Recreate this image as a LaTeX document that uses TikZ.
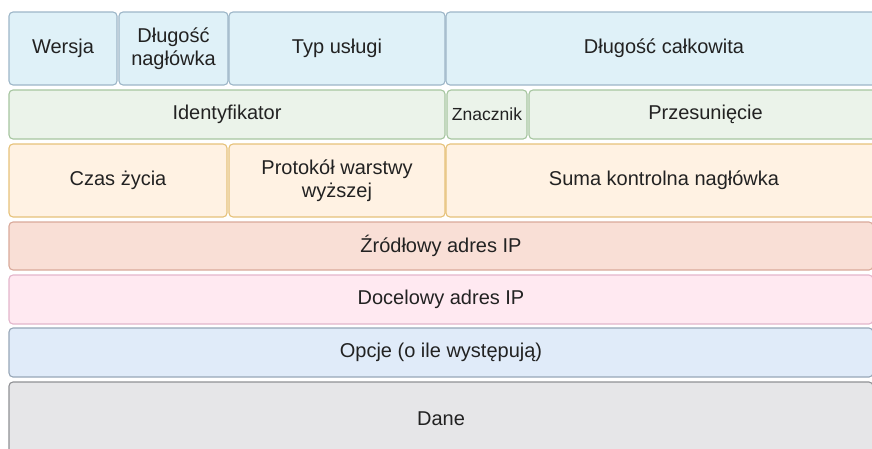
\documentclass[tikz,border=0pt]{standalone}
\usepackage{fontspec}
\setmainfont{Liberation Sans}
\usepackage{tikz}
\usetikzlibrary{positioning}
\definecolor{verfill}{HTML}{DFF1F8}
\definecolor{verline}{HTML}{9DB6C8}
\definecolor{idfill}{HTML}{EBF3EA}
\definecolor{idline}{HTML}{A6C5A0}
\definecolor{ttlfill}{HTML}{FFF2E3}
\definecolor{ttlline}{HTML}{E6C27A}
\definecolor{srcfill}{HTML}{F9DFD6}
\definecolor{srcline}{HTML}{D9A99A}
\definecolor{dstfill}{HTML}{FFE9F1}
\definecolor{dstline}{HTML}{E3B5CB}
\definecolor{optfill}{HTML}{E0EBF9}
\definecolor{optline}{HTML}{97A6B7}
\definecolor{datfill}{HTML}{E6E6E8}
\definecolor{datline}{HTML}{8F9094}
\definecolor{txt}{HTML}{222222}

\begin{document}
\begin{tikzpicture}[
  x=1pt,y=1pt,
  fld/.style={draw,rounded corners=4pt,line width=1.1pt,inner sep=0pt,
    align=center,text=txt,font=\fontsize{20}{23}\selectfont},
  r1/.style={fld,fill=verfill,draw=verline},
  r2/.style={fld,fill=idfill,draw=idline},
  r3/.style={fld,fill=ttlfill,draw=ttlline},
  r4/.style={fld,fill=srcfill,draw=srcline},
  r5/.style={fld,fill=dstfill,draw=dstline},
  r6/.style={fld,fill=optfill,draw=optline},
  r7/.style={fld,fill=datfill,draw=datline},
]
  \useasboundingbox (0,0) rectangle (872,-448);
  \clip (0,0) rectangle (872,-448);
  % wiersz 1
  \node[r1,minimum width=108,minimum height=73] (wer) at (63,-48.5)    {Wersja};
  \node[r1,minimum width=109,minimum height=73] (dlh) at (173.5,-48.5) {Długość\\nagłówka};
  \node[r1,minimum width=216,minimum height=73] (tos) at (337,-48.5)   {Typ usługi};
  \node[r1,minimum width=436,minimum height=73] (dlc) at (664,-48.5)   {Długość całkowita};
  % wiersz 2
  \node[r2,minimum width=436,minimum height=49] (ide) at (227,-114.5)  {Identyfikator};
  \node[r2,minimum width=80,minimum height=49,font=\fontsize{17.5}{19}\selectfont]
    (zna) at (487,-114.5) {Znacznik};
  \node[r2,minimum width=353,minimum height=49] (prz) at (705.5,-114.5) {Przesunięcie};
  % wiersz 3
  \node[r3,minimum width=218,minimum height=73] (ttl) at (118,-180.5)  {Czas życia};
  \node[r3,minimum width=216,minimum height=73] (pro) at (337,-180.5)  {Protokół warstwy\\wyższej};
  \node[r3,minimum width=436,minimum height=73] (sum) at (664,-180.5)  {Suma kontrolna nagłówka};
  % pozostale wiersze
  \node[r4,minimum width=864,minimum height=48] (src) at (441,-246)    {Źródłowy adres IP};
  \node[r5,minimum width=864,minimum height=49] (dst) at (441,-299.5)  {Docelowy adres IP};
  \node[r6,minimum width=864,minimum height=49] (opt) at (441,-352.5)  {Opcje (o ile występują)};
  \node[r7,minimum width=864,minimum height=74] (dat) at (441,-419)    {Dane};
\end{tikzpicture}
\end{document}
